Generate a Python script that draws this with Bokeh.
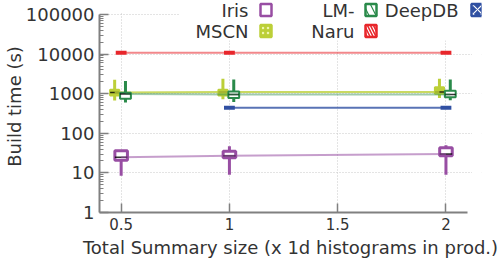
from bokeh.plotting import figure
from bokeh.models import (ColumnDataSource, FixedTicker, Label, BoxAnnotation)
from bokeh.transform import dodge
from bokeh.embed import file_html
from bokeh.resources import INLINE

# ---------------- data ----------------
x_ticks = [0.5, 1, 1.5, 2]
x_tick_labels = ["0.5", "1", "1.5", "2"]
y_ticks = [1, 10, 100, 1000, 10000, 100000]
y_tick_labels = ["1", "10", "100", "1000", "10000", "100000"]

sizes = [0.5, 1, 2]

iris_lo = [8.5, 9, 9]
iris_q1 = [21, 24, 27]
iris_med = [25, 27, 30]
iris_q3 = [36, 35, 43]
iris_hi = [36, 47, 50]

mscn_lo = [670, 720, 775]
mscn_q1 = [900, 900, 1000]
mscn_med = [1080, 1100, 1100]
mscn_q3 = [1260, 1260, 1450]
mscn_hi = [2240, 2400, 2400]

lm_lo = [600, 620, 680]
lm_q1 = [750, 780, 810]
lm_med = [980, 960, 960]
lm_q3 = [1060, 1140, 1190]
lm_hi = [2100, 2280, 2280]

naru_val = [10800, 10800, 10800]

deepdb_sizes = [1, 2]
deepdb_val = [440, 440]

FONT = "DejaVu Sans"
TXT = "#333333"

# The frame reaches the top of the canvas (and a bit past the x axis end) so the
# legend, an in-frame annotation, can sit there; the drawn axes cover only part of it.
X_LO, X_HI = 0.4, 2.1
FL, FR_AX, FR = 96, 467, 481        # frame left, axis end, frame right (px)
FT_AX, FB = 14, 212                 # axis top, frame bottom (px); frame top = 0
x_end = X_LO + (X_HI - X_LO) * (FR - FL) / (FR_AX - FL)
y_top = 10 ** (5 * FB / (FB - FT_AX))

p = figure(width=499, height=261, y_axis_type="log",
           x_range=(X_LO, x_end), y_range=(1, y_top),
           output_backend="svg", toolbar_location=None,
           min_border_left=FL, min_border_right=499 - FR,
           min_border_top=0, min_border_bottom=49)
p.outline_line_color = None
p.background_fill_color = "white"
p.border_fill_color = "white"

# axes
xa = p.xaxis[0]
xa.ticker = FixedTicker(ticks=x_ticks, minor_ticks=[])
xa.major_label_overrides = {t: l for t, l in zip(x_ticks, x_tick_labels)}
xa.bounds = (X_LO, X_HI)
ya = p.yaxis[0]
ya.ticker = FixedTicker(ticks=y_ticks,
                        minor_ticks=[m * 10 ** k for k in range(5) for m in range(2, 10)])
ya.major_label_overrides = {t: l for t, l in zip(y_ticks, y_tick_labels)}
ya.bounds = (y_ticks[0], y_ticks[-1])

for ax in (xa, ya):
    ax.axis_line_color = "#808080"
    ax.axis_line_width = 2
    ax.major_tick_line_color = "#808080"
    ax.minor_tick_line_color = "#808080"
    ax.major_tick_line_width = 1.5
    ax.major_tick_out = 0
    ax.major_tick_in = 9
    ax.minor_tick_out = 0
    ax.minor_tick_in = 4
    ax.major_label_text_font = FONT
    ax.major_label_text_color = TXT
    ax.axis_label_text_font = FONT
    ax.axis_label_text_color = TXT
    ax.axis_label_text_font_style = "normal"
    ax.axis_label_text_font_size = "18px"

xa.major_label_text_font_size = "15px"
ya.major_label_text_font_size = "18px"
xa.major_label_standoff = 5
ya.major_label_standoff = 5
xa.axis_label_standoff = 4
ya.axis_label_standoff = -2
xa.axis_label = "Total Summary size (x 1d histograms in prod.)"
ya.axis_label = "Build time (s)"

for g in (p.xgrid[0], p.ygrid[0]):
    g.grid_line_color = "#c8c8c8"
    g.grid_line_dash = "1 2"
    g.grid_line_width = 1
p.xgrid[0].ticker = FixedTicker(ticks=x_ticks)
p.ygrid[0].ticker = FixedTicker(ticks=y_ticks)

# ---------------- colours ----------------
C_IRIS = "#984ea3"
C_MSCN = "#bccf38"
C_LM = "#2a8a4a"
C_DDB = "#3050a2"
C_NARU = "#e8262b"


def boxes(xs, lo, q1, med, q3, hi, color, off, w, fill, lw, line_alpha=0.55):
    src = ColumnDataSource(dict(x=xs, lo=lo, q1=q1, med=med, q3=q3, hi=hi))
    p.segment(x0=dodge("x", off, range=p.x_range), y0="lo",
              x1=dodge("x", off, range=p.x_range), y1="hi", source=src,
              line_color=color, line_width=3)
    p.vbar(x=dodge("x", off, range=p.x_range), width=w, bottom="q1", top="q3",
           source=src, fill_color=fill, line_color=color, line_width=lw)
    p.segment(x0=dodge("x", off - w / 2, range=p.x_range), y0="med",
              x1=dodge("x", off + w / 2, range=p.x_range), y1="med", source=src,
              line_color="black", line_width=1.5, line_alpha=0.8)
    p.line(x=dodge("x", off, range=p.x_range), y="med", source=src,
           line_color=color, line_width=2, line_alpha=line_alpha)


boxes(sizes, mscn_lo, mscn_q1, mscn_med, mscn_q3, mscn_hi, C_MSCN, -0.03, 0.042,
      C_MSCN, 2, line_alpha=0.8)
boxes(sizes, lm_lo, lm_q1, lm_med, lm_q3, lm_hi, C_LM, 0.02, 0.05,
      "white", 2, line_alpha=0.45)
boxes(sizes, iris_lo, iris_q1, iris_med, iris_q3, iris_hi, C_IRIS, 0.0, 0.058,
      "white", 3)

naru_src = ColumnDataSource(dict(x=sizes, v=naru_val))
p.line(x="x", y="v", source=naru_src, line_color=C_NARU, line_width=2, line_alpha=0.55)
p.vbar(x="x", width=0.05, bottom="v", top="v", source=naru_src,
       line_color=C_NARU, line_width=4)

ddb_src = ColumnDataSource(dict(x=deepdb_sizes, v=deepdb_val))
p.line(x="x", y="v", source=ddb_src, line_color=C_DDB, line_width=2, line_alpha=0.8)
p.vbar(x="x", width=0.05, bottom="v", top="v", source=ddb_src,
       line_color=C_DDB, line_width=4)

# ---------------- legend (screen units, relative to frame) ----------------


def sx(px):
    return px - FL


def sy(py):
    return FB - py


def white_box(l, r, t, b):
    p.add_layout(BoxAnnotation(left=sx(l), right=sx(r), top=sy(t), bottom=sy(b),
                               left_units="screen", right_units="screen",
                               top_units="screen", bottom_units="screen",
                               fill_color="white", fill_alpha=1,
                               line_color=None, line_alpha=0))


white_box(98, FR, 0, 12.5)         # nothing above the 100000 line
white_box(468.5, FR, 0, 212)       # nothing right of the x axis end
white_box(176, FR, 0, 40)          # legend background

legend_names = ["Iris", "MSCN", "LM-", "Naru", "DeepDB"]
legend_cols = [C_IRIS, C_MSCN, C_LM, C_NARU, C_DDB]
legend_fill = ["white", C_MSCN, "white", C_NARU, C_DDB]
legend_hatch = [None, "dot", "left_diagonal_line", "left_diagonal_line", "diagonal_cross"]
legend_hcol = [None, "#eef5b0", C_LM, "white", "white"]
legend_hscale = [1, 5, 14, 6, 9]
text_right = [245, 245, 351, 351, 455]
mark_left = [257, 257, 362, 362, 468]
row_center = [9.5, 30.5, 9.5, 30.5, 9.5]

for name, c, f, h, hc, hs, tr, ml, rc in zip(legend_names, legend_cols, legend_fill,
                                             legend_hatch, legend_hcol, legend_hscale,
                                             text_right, mark_left, row_center):
    p.add_layout(Label(x=sx(tr), y=sy(rc), x_units="screen", y_units="screen",
                       text=name, text_align="right", text_baseline="middle",
                       text_font=FONT, text_font_size="18px", text_color=TXT))
    kw = {}
    if h:
        kw = dict(hatch_pattern=h, hatch_color=hc, hatch_scale=hs, hatch_weight=1.2,
                  hatch_alpha=1)
    p.add_layout(BoxAnnotation(left=sx(ml), right=sx(ml + 11),
                               top=sy(rc - 6), bottom=sy(rc + 6),
                               left_units="screen", right_units="screen",
                               top_units="screen", bottom_units="screen",
                               fill_color=f, fill_alpha=1, line_color=c,
                               line_alpha=1, line_width=2.5, **kw))

open("out.html", "w").write(file_html(p, INLINE))
